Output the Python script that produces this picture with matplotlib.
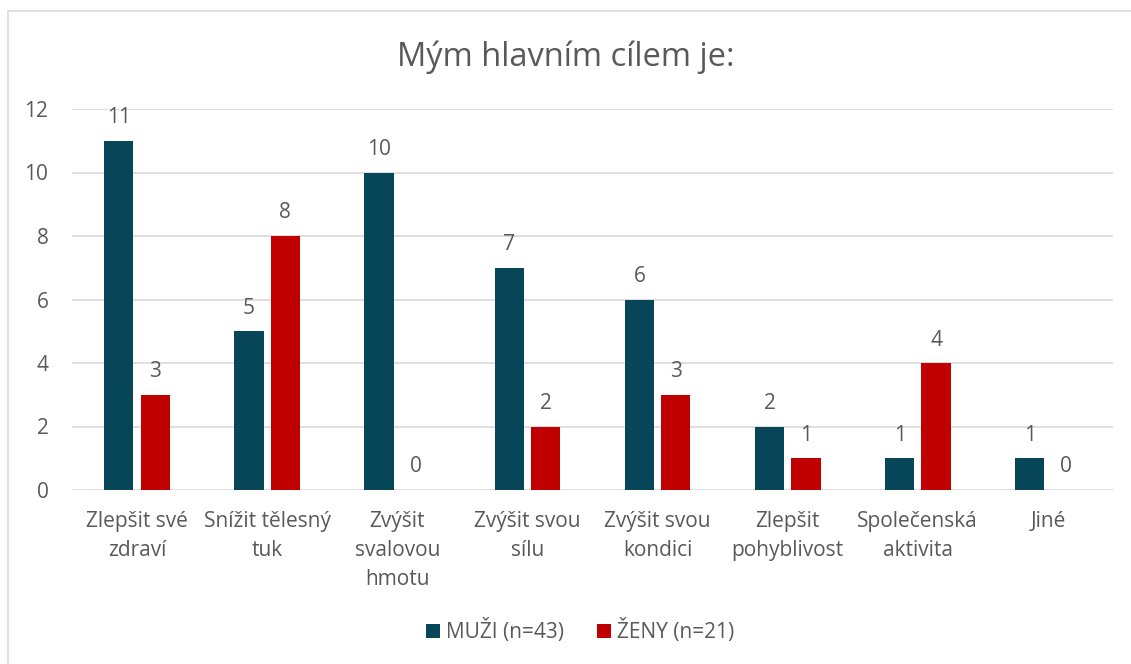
import matplotlib
matplotlib.use("Agg")
import matplotlib.pyplot as plt
import numpy as np
from matplotlib.patches import Rectangle

plt.rcParams["font.family"] = ["Open Sans", "DejaVu Sans"]

categories = ["Zlepšit své\nzdraví", "Snížit tělesný\ntuk", "Zvýšit\nsvalovou\nhmotu",
              "Zvýšit svou\nsílu", "Zvýšit svou\nkondici", "Zlepšit\npohyblivost",
              "Společenská\naktivita", "Jiné"]
muzi = [11, 5, 10, 7, 6, 2, 1, 1]
zeny = [3, 8, 0, 2, 3, 1, 4, 0]
series_labels = ["MUŽI (n=43)", "ŽENY (n=21)"]
yticks = [0, 2, 4, 6, 8, 10, 12]

NAVY = "#074559"
RED = "#C00000"
TEXT = "#595959"
W, H = 1131, 664

fig = plt.figure(figsize=(W / 100, H / 100), dpi=100)
ax = fig.add_axes([72 / W, 1 - 490 / H, (1113 - 72) / W, (490 - 109) / H])

x = np.arange(len(categories))
bw = 0.225
gap = 0.055
off = (bw + gap) / 2
b1 = ax.bar(x - off, muzi, bw, color=NAVY, label=series_labels[0], zorder=3)
b2 = ax.bar(x + off, zeny, bw, color=RED, label=series_labels[1], zorder=3)
for bars in (b1, b2):
    ax.bar_label(bars, padding=9, fontsize=15, color=TEXT)

ax.set_xlim(-0.5, len(categories) - 0.5)
ax.set_ylim(0, 12)
ax.set_yticks(yticks)
ax.set_xticks(x)
ax.set_xticklabels(categories, fontsize=15, color=TEXT, linespacing=1.5)
ax.tick_params(axis="y", labelsize=15, labelcolor=TEXT, length=0, pad=17)
ax.tick_params(axis="x", length=0, pad=15)
ax.grid(axis="y", color="#D9D9D9", lw=1.2, zorder=0)
for s in ax.spines.values():
    s.set_visible(False)

fig.text(0.5, 1 - 57 / H, "Mým hlavním cílem je:", ha="center", va="center",
         fontsize=23.5, color=TEXT)
fig.legend(handles=[b1, b2], loc="center", bbox_to_anchor=(0.513, 1 - 631 / H),
           ncol=2, frameon=False, fontsize=15, labelcolor=TEXT,
           handlelength=0.65, handleheight=0.65, columnspacing=1.6, handletextpad=0.3)

fig.patches.append(Rectangle((8 / W, -0.1), 1.2, 1.1 - 11 / H, transform=fig.transFigure,
                             fill=False, edgecolor="#D9D9D9", lw=1.2))

fig.savefig("out.png", dpi=100)
